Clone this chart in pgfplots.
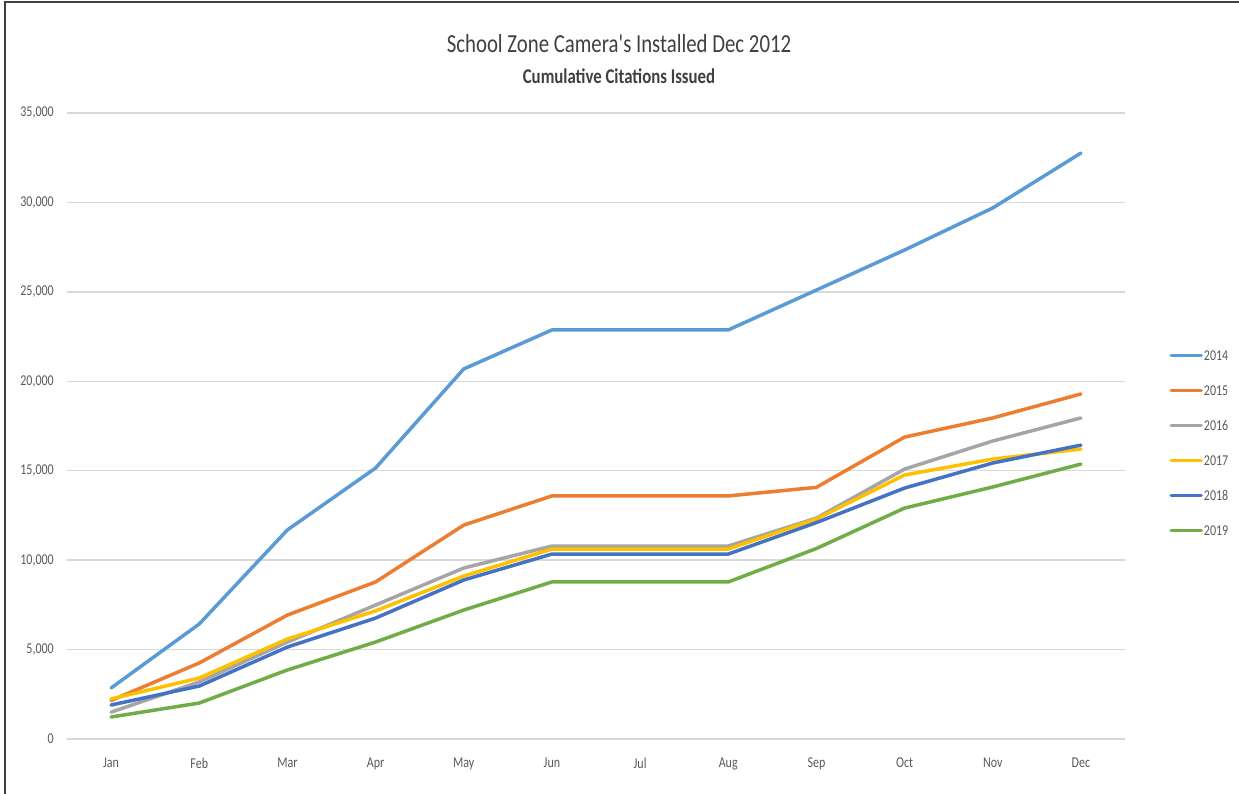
\documentclass[border=0pt]{standalone}
\usepackage{fontspec}
\setmainfont{Carlito}[FakeStretch=0.8, Ligatures=TeXOff]
\usepackage{pgfplots}
\pgfplotsset{compat=1.18}
\definecolor{c14}{HTML}{5B9BD5}
\definecolor{c15}{HTML}{ED7D31}
\definecolor{c16}{HTML}{A5A5A5}
\definecolor{c17}{HTML}{FFC000}
\definecolor{c18}{HTML}{4472C4}
\definecolor{c19}{HTML}{70AD47}
\definecolor{txt}{HTML}{595959}
\definecolor{titlec}{HTML}{404040}
\definecolor{gridc}{HTML}{D9D9D9}
\begin{document}
\begin{tikzpicture}[x=1pt,y=1pt]
\useasboundingbox (-67,-55) rectangle (1172,739);
\draw[line width=2.5pt,color=black!75] (-62,-60) -- (-62,737) -- (1180,737);
\begin{axis}[
  at={(0,0)}, anchor=south west,
  scale only axis, width=1058pt, height=626pt,
  xmin=-0.5, xmax=11.5, ymin=0, ymax=35000,
  axis line style={draw=none},
  major tick length=0pt,
  xtick={0,...,11},
  xticklabels={Jan,Feb,Mar,Apr,May,Jun,Jul,Aug,Sep,Oct,Nov,Dec},
  ytick={0,5000,...,35000},
  scaled y ticks=false,
  /pgf/number format/.cd, 1000 sep={,}, assume math mode=true, /pgfplots/.cd,
  xmajorgrids=false, ymajorgrids=true,
  major grid style={color=gridc, line width=1.3pt},
  xticklabel style={font=\fontsize{15}{18}\selectfont, color=txt, inner sep=0pt, yshift=-19pt},
  yticklabel style={font=\fontsize{15}{18}\selectfont, color=txt, inner sep=0pt, xshift=-13pt},
  legend cell align=left,
  legend style={draw=none, fill=none, at={(axis description cs:1.039,0.626)}, anchor=north west,
    font=\fontsize{15}{18}\selectfont, text=txt, row sep=23pt,
    nodes={inner sep=1pt, text height=10pt, text depth=0pt}},
  legend image code/.code={\draw[#1, line width=3.5pt] (0pt,0pt) -- (30pt,0pt);},
  every axis plot/.append style={line width=3.5pt, line join=round, line cap=round},
]
\addplot[c14] coordinates {(0,2850) (1,6430) (2,11690) (3,15150) (4,20690) (5,22870) (6,22870) (7,22870) (8,25100) (9,27340) (10,29690) (11,32760)};
\addlegendentry{2014}
\addplot[c15] coordinates {(0,2150) (1,4250) (2,6930) (3,8780) (4,11960) (5,13590) (6,13590) (7,13590) (8,14070) (9,16880) (10,17950) (11,19290)};
\addlegendentry{2015}
\addplot[c16] coordinates {(0,1500) (1,3190) (2,5420) (3,7490) (4,9560) (5,10790) (6,10790) (7,10790) (8,12350) (9,15090) (10,16660) (11,17950)};
\addlegendentry{2016}
\addplot[c17] coordinates {(0,2240) (1,3410) (2,5590) (3,7160) (4,9110) (5,10620) (6,10620) (7,10620) (8,12300) (9,14760) (10,15650) (11,16210)};
\addlegendentry{2017}
\addplot[c18] coordinates {(0,1900) (1,2960) (2,5140) (3,6760) (4,8890) (5,10340) (6,10340) (7,10340) (8,12100) (9,14030) (10,15430) (11,16430)};
\addlegendentry{2018}
\addplot[c19] coordinates {(0,1230) (1,2010) (2,3860) (3,5420) (4,7210) (5,8780) (6,8780) (7,8780) (8,10650) (9,12910) (10,14090) (11,15370)};
\addlegendentry{2019}
\end{axis}
\node[color=titlec, font=\fontsize{26}{30}\selectfont] at (552,695) {School Zone Camera's Installed Dec 2012};
\node[color=titlec, font=\bfseries\fontsize{21}{25}\selectfont] at (552,663) {Cumulative Citations Issued};
\end{tikzpicture}
\end{document}
